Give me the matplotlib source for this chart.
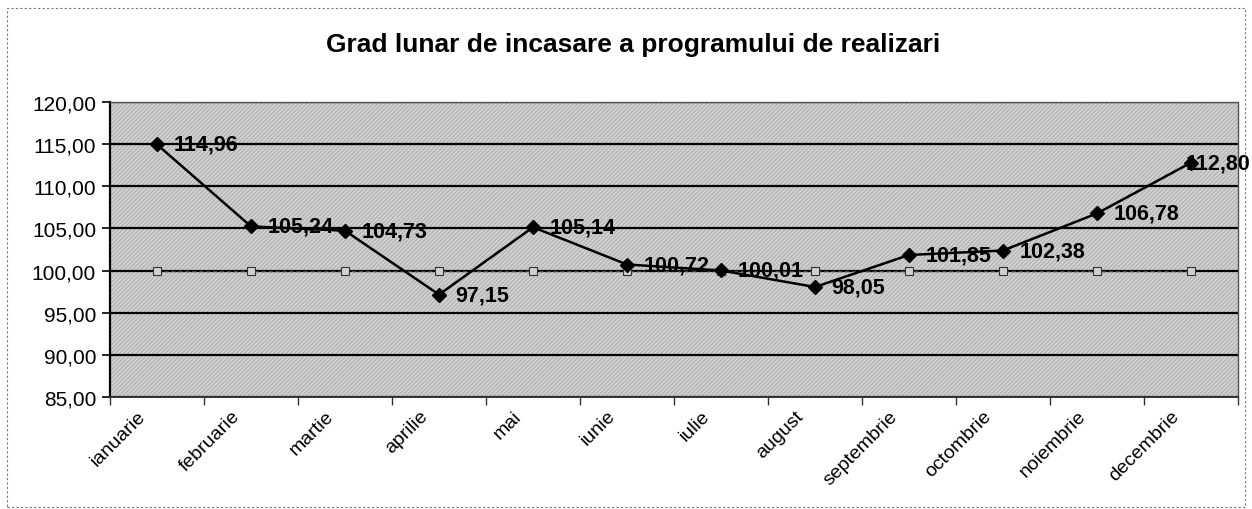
import matplotlib
matplotlib.use("Agg")
import matplotlib.pyplot as plt
from matplotlib.patches import Rectangle
from matplotlib.transforms import ScaledTranslation, blended_transform_factory

months = ["ianuarie", "februarie", "martie", "aprilie", "mai", "iunie",
          "iulie", "august", "septembrie", "octombrie", "noiembrie", "decembrie"]
grad = [114.96, 105.24, 104.73, 97.15, 105.14, 100.72,
        100.01, 98.05, 101.85, 102.38, 106.78, 112.80]
labels = ["114,96", "105,24", "104,73", "97,15", "105,14", "100,72",
          "100,01", "98,05", "101,85", "102,38", "106,78", "112,80"]
program = [100.0] * 12
yticks = [85, 90, 95, 100, 105, 110, 115, 120]
ytick_labels = ["85,00", "90,00", "95,00", "100,00", "105,00", "110,00", "115,00", "120,00"]
title = "Grad lunar de incasare a programului de realizari"

plt.rcParams['font.family'] = ['Liberation Sans', 'DejaVu Sans']

fig = plt.figure(figsize=(12.52, 5.10), dpi=100)
fig.patch.set_facecolor('white')
ax = fig.add_axes([110/1252, 1-398/510, (1238-110)/1252, (398-103)/510])

ax.set_facecolor('#b6b6b6')
ax.add_patch(Rectangle((0, 0), 1, 1, transform=ax.transAxes, facecolor='none',
                       edgecolor='#d6d6d6', hatch='////////', linewidth=0, zorder=0))

x = list(range(len(months)))
ax.set_xlim(-0.5, len(months) - 0.5)
ax.set_ylim(85, 120)
ax.set_yticks(yticks)
ax.set_yticklabels(ytick_labels, fontsize=15)
ax.yaxis.grid(True, color='black', linewidth=1.6, zorder=1)
ax.set_axisbelow(True)

ax.set_xticks([i - 0.5 for i in range(len(months) + 1)])
ax.set_xticklabels([])
ax.tick_params(axis='x', which='major', length=6, width=1, color='#333333', direction='out')
ax.tick_params(axis='y', length=6, width=1.2, color='black', direction='out', pad=4)

base = blended_transform_factory(ax.transData, ax.transAxes)
shift = ScaledTranslation(-20/100, -10/100, fig.dpi_scale_trans)
for xi, m in zip(x, months):
    ax.text(xi, 0, m, transform=base + shift, rotation=45, ha='right', va='top',
            rotation_mode='anchor', fontsize=14, clip_on=False)

ax.plot(x, program, color='#444444', linewidth=1, linestyle=(0, (3, 2)),
        marker='s', markersize=6, markerfacecolor='#d0d0d0', markeredgecolor='#333333',
        markeredgewidth=0.8, zorder=3)
ax.plot(x, grad, color='black', linewidth=1.8, marker='D', markersize=7,
        markerfacecolor='black', markeredgecolor='black', zorder=6)

for i, (xi, yi, lab) in enumerate(zip(x, grad, labels)):
    off = 12 if i < len(x) - 1 else -4
    ax.annotate(lab, (xi, yi), xytext=(off, 0), textcoords='offset points',
                ha='left', va='center', fontsize=15.5, fontweight='bold',
                color='black', zorder=5, annotation_clip=False)

for side in ['top', 'right']:
    ax.spines[side].set_color('#555555')
    ax.spines[side].set_linestyle((0, (2, 1)))
    ax.spines[side].set_linewidth(1)
ax.spines['left'].set_color('black')
ax.spines['left'].set_linewidth(1.6)
ax.spines['bottom'].set_color('#333333')
ax.spines['bottom'].set_linestyle((0, (2, 1)))
ax.spines['bottom'].set_linewidth(1.4)

fig.text(633/1252, 1-45/510, title, ha='center', va='center',
         fontsize=19, fontweight='bold')

fig.patches.append(Rectangle((7/1252, 2/510), (1245-7)/1252, (499)/510,
                             transform=fig.transFigure, facecolor='none',
                             edgecolor='#777777', linewidth=0.8,
                             linestyle=(0, (2, 2))))

fig.savefig('out.png', dpi=100)
